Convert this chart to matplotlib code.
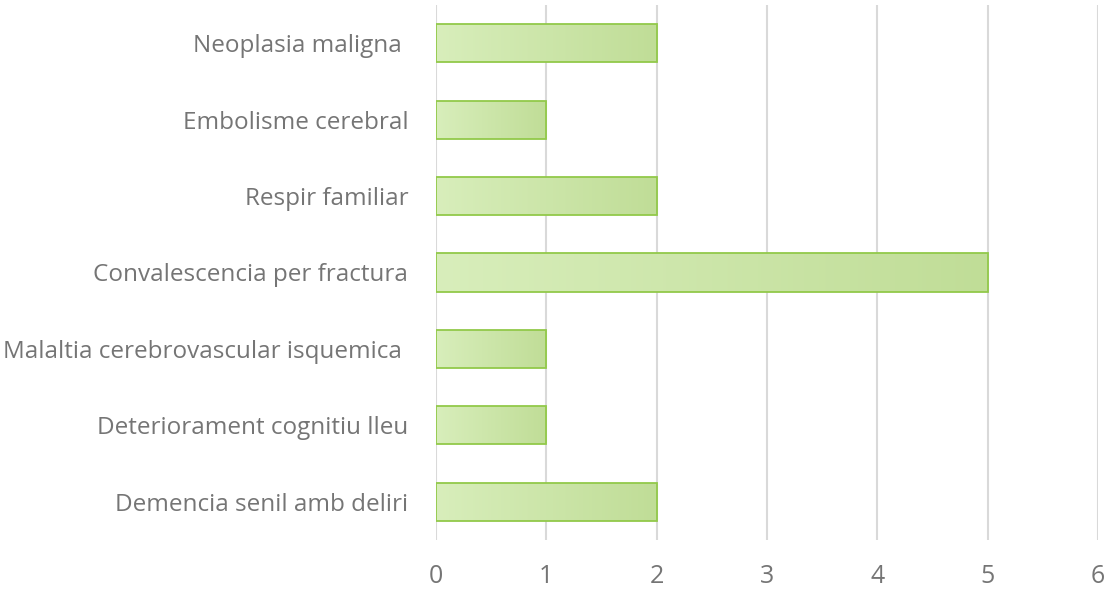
import numpy as np
import matplotlib.pyplot as plt
from matplotlib.colors import LinearSegmentedColormap
from matplotlib.patches import Rectangle

# Chart data, listed bottom to top as drawn on the axis.
categories = [
    "Demencia senil amb deliri",
    "Deteriorament cognitiu lleu",
    "Malaltia cerebrovascular isquemica ",
    "Convalescencia per fractura",
    "Respir familiar",
    "Embolisme cerebral",
    "Neoplasia maligna ",
]
counts = [2, 1, 1, 5, 2, 1, 2]
x_ticks = [0, 1, 2, 3, 4, 5, 6]

text_color = "#757575"
grid_color = "#d9d9d9"
edge_color = "#92c94a"
grad = LinearSegmentedColormap.from_list("bar_grad", ["#d8eebb", "#c0dd97"])

fig = plt.figure(figsize=(11.1, 5.92), dpi=100)
ax = fig.add_axes([0.3928, 0.0878, 0.5964, 0.9038])

y = np.arange(len(categories))
bars = ax.barh(y, counts, height=0.5, color="none", edgecolor=edge_color,
               linewidth=1.3, zorder=3)

# Left-to-right gradient inside each bar, clipped to the bar shape.
gradient = np.linspace(0, 1, 256).reshape(1, -1)
for bar in bars:
    x0, y0 = bar.get_x(), bar.get_y()
    w, h = bar.get_width(), bar.get_height()
    img = ax.imshow(gradient, cmap=grad, aspect="auto",
                    extent=[x0, x0 + w, y0, y0 + h], zorder=2)
    clip = Rectangle((x0, y0), w, h, transform=ax.transData)
    img.set_clip_path(clip)

ax.set_xlim(0, 6)
ax.set_ylim(-0.5, len(categories) - 0.5)
ax.set_xticks(x_ticks)
ax.set_yticks(y)
ax.set_yticklabels(categories)

ax.grid(axis="x", color=grid_color, linewidth=1.5, zorder=0)
ax.set_axisbelow(True)
for side in ["top", "right", "bottom", "left"]:
    ax.spines[side].set_visible(False)

ax.tick_params(axis="x", length=0, pad=17, labelsize=18, labelcolor=text_color)
ax.tick_params(axis="y", length=0, pad=20, labelsize=17.5, labelcolor=text_color)
for lbl in ax.get_xticklabels() + ax.get_yticklabels():
    lbl.set_fontfamily("Open Sans")

fig.savefig("out.png", dpi=100, facecolor="white")
